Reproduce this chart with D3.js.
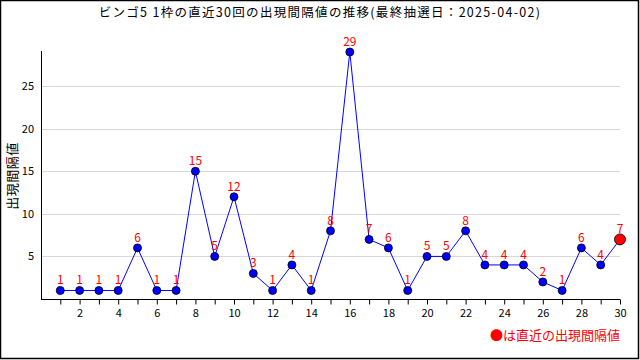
<!DOCTYPE html>
<html>
<head>
<meta charset="utf-8">
<script src="https://cdn.jsdelivr.net/npm/d3@7"></script>
<style>
  body { margin: 0; background: #fff; }
  svg { display: block; }
  text { font-family: "Noto Sans CJK JP", "DejaVu Sans", sans-serif; }
</style>
</head>
<body>
<div id="chart"></div>
<script>
// chart data
let draws = d3.range(1, 31); // 直近30回
let intervals = [1, 1, 1, 1, 6, 1, 1, 15, 5, 12, 3, 1, 4, 1, 8, 29, 7, 6, 1, 5, 5, 8, 4, 4, 4, 2, 1, 6, 4, 7];
let yTicks = [5, 10, 15, 20, 25];

let titleText = "ビンゴ5 1枠の直近30回の出現間隔値の推移(最終抽選日：2025-04-02)";
let yTitle = "出現間隔値";
let legendText = "●は直近の出現間隔値";

let WIDTH = 640, HEIGHT = 360;

let svg = d3.select("#chart").append("svg")
    .attr("width", WIDTH)
    .attr("height", HEIGHT);

// outer frame
svg.append("rect")
    .attr("x", 0.5).attr("y", 0.5)
    .attr("width", WIDTH - 2).attr("height", HEIGHT - 2)
    .attr("fill", "none")
    .attr("stroke", "#000")
    .attr("stroke-width", 1.5);

let x = d3.scaleLinear().domain([0, 30]).range([41, 620]);
let y = d3.scaleLinear().domain([0, 29]).range([299, 52]);

// title
svg.append("text")
    .attr("x", 320).attr("y", 17)
    .attr("text-anchor", "middle")
    .attr("font-size", 12.5)
    .attr("letter-spacing", 1.3)
    .attr("fill", "#000")
    .text(titleText);

// grid lines
svg.append("g")
    .selectAll("line")
    .data(yTicks)
    .join("line")
    .attr("x1", x(0)).attr("x2", x(30))
    .attr("y1", d => Math.round(y(d)) + 0.5)
    .attr("y2", d => Math.round(y(d)) + 0.5)
    .attr("stroke", "#d8d8d8");

// y labels
svg.append("g")
    .selectAll("text")
    .data(yTicks)
    .join("text")
    .attr("x", 34)
    .attr("y", d => y(d) + 4)
    .attr("text-anchor", "end")
    .attr("font-size", 11)
    .attr("font-family", "DejaVu Sans, sans-serif")
    .text(d => d);

// y axis title
svg.append("text")
    .attr("transform", "translate(17, 176) rotate(-90)")
    .attr("text-anchor", "middle")
    .attr("font-size", 13)
    .attr("letter-spacing", 0.5)
    .text(yTitle);

// axes lines
svg.append("line")
    .attr("x1", 41.5).attr("x2", 41.5)
    .attr("y1", 51).attr("y2", 300)
    .attr("stroke", "#000");

let xAxis = d3.axisBottom(x)
    .tickValues(draws)
    .tickSize(5)
    .tickSizeOuter(0)
    .tickFormat(d => d % 2 === 0 ? d : "");

let xg = svg.append("g")
    .attr("transform", "translate(0, 299.5)")
    .call(xAxis);
xg.select(".domain").attr("d", `M${x(0)},0H${x(30)}`);
xg.selectAll("text")
    .attr("font-size", 11)
    .attr("dy", "0.9em")
    .attr("font-family", "DejaVu Sans, sans-serif");

// line
let line = d3.line()
    .x((d, i) => x(draws[i]))
    .y(d => y(d));

svg.append("path")
    .datum(intervals)
    .attr("d", line)
    .attr("fill", "none")
    .attr("stroke", "#0000ff")
    .attr("stroke-width", 1);

// points
let last = intervals.length - 1;
svg.append("g")
    .selectAll("circle")
    .data(intervals)
    .join("circle")
    .attr("cx", (d, i) => x(draws[i]))
    .attr("cy", d => y(d))
    .attr("r", (d, i) => i === last ? 5.5 : 4)
    .attr("fill", (d, i) => i === last ? "#ff0000" : "#0000ff")
    .attr("stroke", "#000")
    .attr("stroke-width", 0.8);

// value labels
svg.append("g")
    .selectAll("text")
    .data(intervals)
    .join("text")
    .attr("x", (d, i) => x(draws[i]))
    .attr("y", d => y(d) - 6)
    .attr("text-anchor", "middle")
    .attr("font-size", 12)
    .attr("fill", "#ff0000")
    .attr("font-family", "DejaVu Sans, sans-serif")
    .text(d => d);

// legend
svg.append("text")
    .attr("x", 620).attr("y", 340)
    .attr("text-anchor", "end")
    .attr("font-size", 13)
    .attr("fill", "#ff0000")
    .text(legendText);
</script>
</body>
</html>
